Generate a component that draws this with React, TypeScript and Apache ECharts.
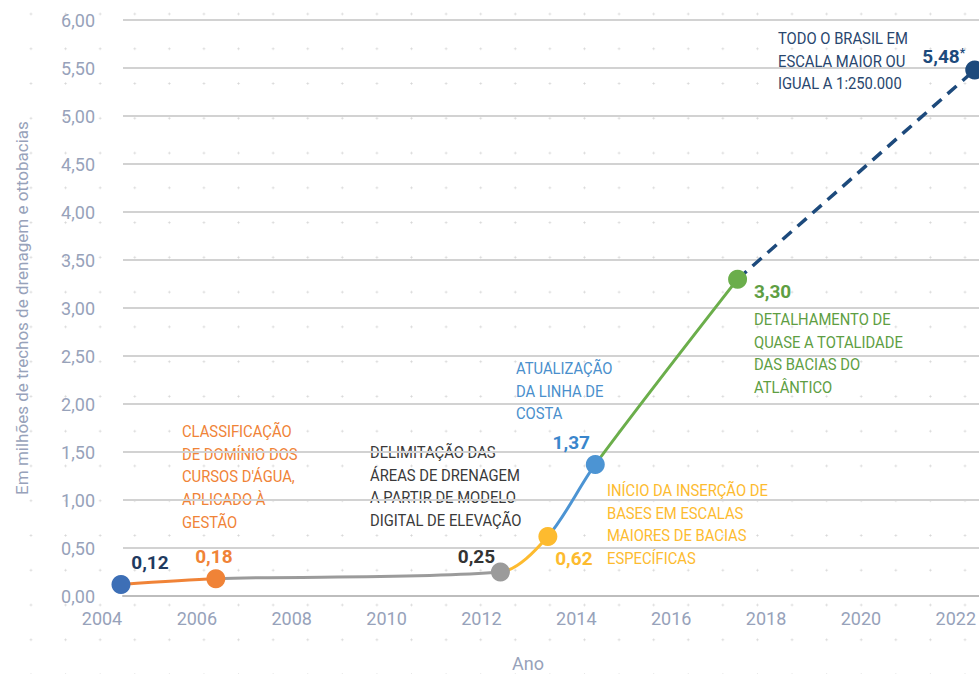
import React, { useEffect, useRef } from 'react';
import * as echarts from 'echarts';

// ---------- data ----------
const years = [2004.4, 2006.4, 2012.4, 2013.4, 2014.4, 2017.4, 2022.4];
const values = [0.12, 0.18, 0.25, 0.62, 1.37, 3.3, 5.48];
const valueLabels = ['0,12', '0,18', '0,25', '0,62', '1,37', '3,30', '5,48'];
const projectedFrom = 5; // segment from this index on is a projection (dashed)
const xTickYears = [2004, 2006, 2008, 2010, 2012, 2014, 2016, 2018, 2020, 2022];
const yTickValues = [0, 0.5, 1, 1.5, 2, 2.5, 3, 3.5, 4, 4.5, 5, 5.5, 6];
const annotationTexts = [
  "CLASSIFICAÇÃO\nDE DOMÍNIO DOS\nCURSOS D'ÁGUA,\nAPLICADO À\nGESTÃO",
  'DELIMITAÇÃO DAS\nÁREAS DE DRENAGEM\nA PARTIR DE MODELO\nDIGITAL DE ELEVAÇÃO',
  'INÍCIO DA INSERÇÃO DE\nBASES EM ESCALAS\nMAIORES DE BACIAS\nESPECÍFICAS',
  'ATUALIZAÇÃO\nDA LINHA DE\nCOSTA',
  'DETALHAMENTO DE\nQUASE A TOTALIDADE\nDAS BACIAS DO\nATLÂNTICO',
  'TODO O BRASIL EM\nESCALA MAIOR OU\nIGUAL A 1:250.000',
];
const yAxisTitle = 'Em milhões de trechos de drenagem e ottobacias';
const xAxisTitle = 'Ano';

// ---------- styles / layout ----------
const FONT = "Roboto, 'Noto Sans', sans-serif";
const AXIS_GRAY = '#97A2BA';
const ORANGE = '#F08337';
const GRAY = '#9B9B9B';
const YELLOW = '#FDBB2F';
const BLUE = '#4C94D3';
const GREEN = '#6BAE4B';
const NAVY = '#1D4A7C';
const segmentColors = [ORANGE, GRAY, YELLOW, BLUE, GREEN];
const dotColors = ['#3D6FB6', ORANGE, GRAY, YELLOW, BLUE, GREEN, NAVY];
const labelColors = ['#1F3A60', ORANGE, '#333333', YELLOW, '#3A86CC', '#5E9E43', NAVY];
const labelOffsets = [
  [29, -22],
  [-2, -22],
  [-24, -16],
  [26, 22],
  [-24, -22],
  [35, 12],
  [-31, -13],
];
const annotationColors = [ORANGE, '#3A3A3A', YELLOW, '#4A8FCC', '#5E9E43', '#28466E'];
const annotationPos = [
  [182, 431],
  [370, 452],
  [607, 490],
  [516, 368],
  [754, 319],
  [778, 38],
];
const LINE_H = 22.8;

const fmtNum = (v: number) => v.toFixed(2).replace('.', ',');

export default function App() {
  const ref = useRef<HTMLDivElement>(null);

  useEffect(() => {
    const chart = echarts.init(ref.current!, null, { renderer: 'svg' });
    const pts = years.map((x, i) => [x, values[i]]);
    const solidPts = pts.slice(0, projectedFrom + 1);
    const dashedPts = pts.slice(projectedFrom);

    const pieces = segmentColors.map((c, i) => {
      if (i === 0) return { lt: years[1], color: c };
      if (i === segmentColors.length - 1) return { gte: years[i], color: c };
      return { gte: years[i], lt: years[i + 1], color: c };
    });

    const option: any = {
      animation: false,
      textStyle: { fontFamily: FONT },
      grid: [
        { left: 123, right: 0, top: 20, bottom: 78 },
        { left: 102, right: 0, top: 20, bottom: 78 },
      ],
      xAxis: [
        {
          gridIndex: 0,
          type: 'value',
          min: 0,
          max: 1,
          axisLine: { show: true, lineStyle: { color: '#BDBDBD', width: 2 } },
          axisTick: { show: false },
          axisLabel: { show: false },
          splitLine: { show: false },
        },
        {
          gridIndex: 1,
          type: 'value',
          min: xTickYears[0],
          max: 2022.46,
          interval: 2,
          axisLine: { show: false },
          axisTick: { show: false },
          splitLine: { show: false },
          axisLabel: {
            color: AXIS_GRAY,
            fontSize: 18,
            fontFamily: FONT,
            margin: 13,
            showMaxLabel: false,
            formatter: (v: number) => (xTickYears.includes(v) ? String(v) : ''),
          },
        },
      ],
      yAxis: [
        {
          gridIndex: 0,
          type: 'value',
          min: yTickValues[0],
          max: yTickValues[yTickValues.length - 1],
          interval: 0.5,
          axisLine: { show: false },
          axisTick: { show: false },
          splitLine: { lineStyle: { color: '#D2D2D2', width: 2 } },
          axisLabel: {
            color: AXIS_GRAY,
            fontSize: 18,
            fontFamily: FONT,
            margin: 28,
            formatter: (v: number) => fmtNum(v),
          },
          name: yAxisTitle,
          nameLocation: 'middle',
          nameGap: 93,
          nameTextStyle: { color: AXIS_GRAY, fontSize: 17, fontFamily: FONT },
        },
        {
          gridIndex: 1,
          type: 'value',
          min: yTickValues[0],
          max: yTickValues[yTickValues.length - 1],
          show: false,
        },
      ],
      visualMap: [
        {
          type: 'piecewise',
          show: false,
          seriesIndex: 0,
          dimension: 0,
          pieces,
        },
      ],
      series: [
        {
          type: 'line',
          xAxisIndex: 1,
          yAxisIndex: 1,
          data: solidPts,
          smooth: 0.3,
          showSymbol: false,
          lineStyle: { width: 3 },
          z: 2,
        },
        {
          type: 'line',
          xAxisIndex: 1,
          yAxisIndex: 1,
          data: dashedPts,
          showSymbol: false,
          lineStyle: { width: 3.5, color: NAVY, type: [12, 8] },
          z: 2,
        },
        {
          type: 'scatter',
          xAxisIndex: 1,
          yAxisIndex: 1,
          symbolSize: 19,
          z: 3,
          itemStyle: { opacity: 1 },
          data: pts.map((p, i) => ({
            value: p,
            itemStyle: { color: dotColors[i], opacity: 1 },
            label: {
              show: true,
              position: 'inside',
              offset: labelOffsets[i],
              color: labelColors[i],
              opacity: 1,
              fontSize: 19,
              fontWeight: 'bold',
              fontFamily: FONT,
              formatter: i === values.length - 1 ? `{a|${valueLabels[i]}}{b|*}` : valueLabels[i],
              rich: {
                a: { color: labelColors[i], fontSize: 19, fontWeight: 'bold', fontFamily: FONT },
                b: { color: labelColors[i], fontSize: 12, fontFamily: FONT, padding: [0, 0, 8, 0] },
              },
            },
          })),
        },
      ],
      graphic: [
        ...annotationTexts.map((t, i) => ({
          type: 'text',
          x: annotationPos[i][0],
          y: annotationPos[i][1] - LINE_H / 2,
          scaleX: 0.87,
          silent: true,
          style: {
            text: t,
            fill: annotationColors[i],
            fontSize: 17,
            fontFamily: FONT,
            lineHeight: LINE_H,
            align: 'left',
            verticalAlign: 'top',
          },
        })),
        {
          type: 'text',
          x: 528,
          y: 663,
          silent: true,
          style: {
            text: xAxisTitle,
            fill: AXIS_GRAY,
            fontSize: 18,
            fontFamily: FONT,
            align: 'center',
            verticalAlign: 'middle',
          },
        },
      ],
    };
    chart.setOption(option);
    return () => chart.dispose();
  }, []);

  return (
    <div
      ref={ref}
      style={{
        position: 'absolute',
        left: 0,
        top: 0,
        width: 979,
        height: 674,
        backgroundColor: '#ffffff',
        backgroundImage: 'radial-gradient(circle, #D6D6D6 0.8px, transparent 1.3px)',
        backgroundSize: '34.6px 34.78px',
        backgroundPosition: '13.7px -3.4px',
      }}
    />
  );
}
